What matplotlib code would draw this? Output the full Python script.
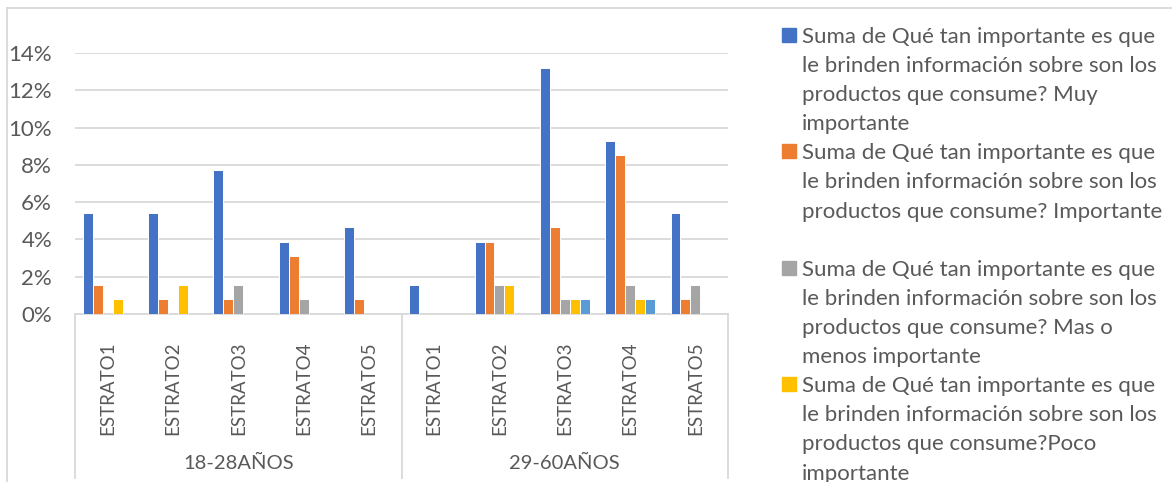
import matplotlib
matplotlib.use("Agg")
import matplotlib.pyplot as plt
from matplotlib.patches import Rectangle
from matplotlib.lines import Line2D
import numpy as np

# =========================
# DATA
# =========================
GROUPS = ["18-28AÑOS", "29-60AÑOS"]
ESTRATOS = ["ESTRATO1", "ESTRATO2", "ESTRATO3", "ESTRATO4", "ESTRATO5"]

MUY_IMPORTANTE = [5.43, 5.43, 7.75, 3.88, 4.65, 1.55, 3.88, 13.18, 9.30, 5.43]
IMPORTANTE = [1.55, 0.78, 0.78, 3.10, 0.78, 0.00, 3.88, 4.65, 8.53, 0.78]
MAS_O_MENOS = [0.00, 0.00, 1.55, 0.78, 0.00, 0.00, 1.55, 0.78, 1.55, 1.55]
POCO = [0.78, 1.55, 0.00, 0.00, 0.00, 0.00, 1.55, 0.78, 0.78, 0.00]
NADA = [0.00, 0.00, 0.00, 0.00, 0.00, 0.00, 0.00, 0.78, 0.78, 0.00]

PREFIX = ["Suma de Qué tan importante es que",
          "le brinden información sobre son los"]
LABELS = [
    PREFIX + ["productos que consume? Muy", "importante"],
    PREFIX + ["productos que consume? Importante", ""],
    PREFIX + ["productos que consume? Mas o", "menos importante"],
    PREFIX + ["productos que consume?Poco", "importante"],
    PREFIX + ["productos que consume? Nada", "importante"],
]
COLORS = ["#4472C4", "#ED7D31", "#A5A5A5", "#FFC000", "#5B9BD5"]
SERIES = [MUY_IMPORTANTE, IMPORTANTE, MAS_O_MENOS, POCO, NADA]

TEXT = "#595959"
GRID = "#d9d9d9"
FONT = "Lato"

# =========================
# FIGURE
# =========================
W, H = 1172, 482
fig = plt.figure(figsize=(W / 100, H / 100), dpi=100)
ax = fig.add_axes([75 / W, 1 - 314 / H, (728 - 75) / W, (314 - 53) / H])

n = len(SERIES)
x = np.arange(len(GROUPS) * len(ESTRATOS))
bw = 0.152
for i, (vals, col) in enumerate(zip(SERIES, COLORS)):
    offs = (i - (n - 1) / 2) * bw
    ax.bar(x + offs, np.array(vals) / 100, width=bw, color=col,
           edgecolor="white", linewidth=0.7, zorder=3)

ax.set_xlim(-0.5, len(x) - 0.5)
ax.set_ylim(0, 0.14)
yt = np.arange(0, 0.141, 0.02)
ax.set_yticks(yt)
ax.set_yticklabels([f"{int(round(v * 100))}%" for v in yt],
                   fontsize=16, color=TEXT, family=FONT)
ax.yaxis.grid(True, color=GRID, linewidth=1.3, zorder=0)
ax.tick_params(axis="y", length=0, pad=16.5)
for s in ["top", "right", "left"]:
    ax.spines[s].set_visible(False)
ax.spines["bottom"].set_color(GRID)
ax.spines["bottom"].set_linewidth(1.3)

ax.set_xticks(x)
ax.set_xticklabels(ESTRATOS * len(GROUPS), rotation=90, fontsize=13.5,
                   color=TEXT, family=FONT, va="top")
ax.tick_params(axis="x", length=0, pad=20)

# group labels + separators
trans = ax.get_xaxis_transform()
y_bottom = -(478 - 314) / (314 - 53)
for g, name in enumerate(GROUPS):
    cx = g * len(ESTRATOS) + (len(ESTRATOS) - 1) / 2
    ax.text(cx, -(463 - 314) / (314 - 53), name, transform=trans,
            ha="center", va="center", fontsize=14.5, color=TEXT, family=FONT)
for b in range(len(GROUPS) + 1):
    xb = b * len(ESTRATOS) - 0.5
    ax.add_line(Line2D([xb, xb], [0, y_bottom], transform=trans, color=GRID,
                       linewidth=1.3, clip_on=False))

# chart border (top and left)
fig.add_artist(Line2D([7 / W, 1], [1 - 8 / H, 1 - 8 / H], color=GRID, linewidth=1.3))
fig.add_artist(Line2D([7 / W, 7 / W], [1 - 8 / H, 0], color=GRID, linewidth=1.3))

# =========================
# LEGEND (manual, Excel-style)
# =========================
line_h = 29.1
base = 43
for lines, col in zip(LABELS, COLORS):
    if base - 16 > H:
        break
    fig.add_artist(Rectangle((782 / W, 1 - (base - 1) / H), 14 / W, 14 / H,
                             color=col, transform=fig.transFigure))
    for ln in lines:
        if ln and base - 16 < H:
            fig.text(802 / W, 1 - base / H, ln, ha="left", va="baseline",
                     fontsize=16, color=TEXT, family=FONT)
        base += line_h

plt.savefig("out.png", dpi=100)
